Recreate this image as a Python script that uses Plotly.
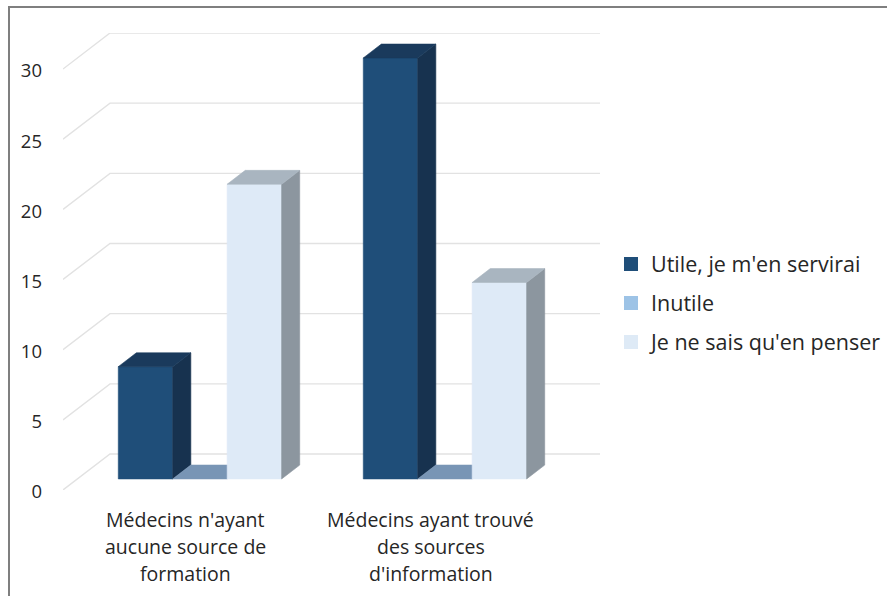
import plotly.graph_objects as go

categories = [["Médecins n'ayant", "aucune source de", "formation"],
              ["Médecins ayant trouvé", "des sources", "d'information"]]
series_names = ["Utile, je m'en servirai", "Inutile", "Je ne sais qu'en penser"]
utile = [8, 30]
inutile = [0, 0]
ne_sais = [21, 14]
y_ticks = [0, 5, 10, 15, 20, 25, 30]

legend_colors = ["#1F4E79", "#9DC3E6", "#DEEAF6"]
front_colors = ["#1F4E79", "#7C99B8", "#DEEAF7"]
side_colors = ["#17324F", "#6F89A6", "#8C969F"]
top_colors = ["#1A3A5C", "#7895B5", "#A9B5C0"]
GRID = "#E2E2E2"
TEXT = "#262626"
FONT = "Open Sans"
FS_CAT = 19.5
FS_TICK = 18.5
FS_LEG = 21.5

W, H = 887, 596
ML, MR, MT, MB = 63, 287, 33, 106
PW, PH = W - ML - MR, H - MT - MB
DEPTH_X = 47 / 245          # floor depth, in category units
DEPTH_Y = 36 / 14.03        # floor depth, in value units
X_MAX = 2 + DEPTH_X
Y_MAX = 30 + DEPTH_Y


def proj(c, v, d):
    return c + d * DEPTH_X, v + d * DEPTH_Y


fig = go.Figure()

# walls: gridlines run along the side wall, then along the back wall
for t in y_ticks:
    pts = [proj(0, t, 0), proj(0, t, 1), proj(2, t, 1)]
    fig.add_trace(go.Scatter(x=[p[0] for p in pts], y=[p[1] for p in pts], mode="lines",
                             line=dict(color=GRID, width=1.4), showlegend=False, hoverinfo="skip"))


def face(points, color):
    xs = [p[0] for p in points] + [points[0][0]]
    ys = [p[1] for p in points] + [points[0][1]]
    fig.add_trace(go.Scatter(x=xs, y=ys, mode="lines", fill="toself", fillcolor=color,
                             line=dict(width=0.6, color=color), showlegend=False, hoverinfo="skip"))


BAR_W = 1 / 4.5
GAP = 1 / 6
D0, D1 = 0.3075, 0.6925
all_series = [utile, inutile, ne_sais]
for cat in range(len(categories)):
    for s, vals in enumerate(all_series):
        v = vals[cat]
        c0 = cat + GAP + s * BAR_W
        c1 = c0 + BAR_W
        if v > 0:
            face([proj(c0, 0, D0), proj(c1, 0, D0), proj(c1, v, D0), proj(c0, v, D0)], front_colors[s])
            face([proj(c1, 0, D0), proj(c1, 0, D1), proj(c1, v, D1), proj(c1, v, D0)], side_colors[s])
        face([proj(c0, v, D0), proj(c1, v, D0), proj(c1, v, D1), proj(c0, v, D1)], top_colors[s])

# legend
for name, col in zip(series_names, legend_colors):
    fig.add_trace(go.Scatter(x=[None], y=[None], mode="markers", name=name, legendgroup=name,
                             marker=dict(symbol="square", size=14, color=col)))

# multi-line category labels
annotations = []
for i, lines in enumerate(categories):
    for j, line in enumerate(lines):
        py = 519.5 + j * 27
        annotations.append(dict(x=i + 0.5, y=1 - (py - MT) / PH, xref="x", yref="paper", text=line,
                                showarrow=False, xanchor="center", yanchor="middle",
                                font=dict(family=FONT, size=FS_CAT, color=TEXT)))

shapes = [
    dict(type="line", xref="paper", yref="paper", x0=(9 - ML) / PW, x1=(9 - ML) / PW,
         y0=1 - (H - MT) / PH, y1=1 - (6 - MT) / PH, line=dict(color="#7F7F7F", width=2)),
    dict(type="line", xref="paper", yref="paper", x0=(8 - ML) / PW, x1=(W - ML) / PW,
         y0=1 - (7 - MT) / PH, y1=1 - (7 - MT) / PH, line=dict(color="#7F7F7F", width=2)),
]

fig.update_layout(
    width=W, height=H, autosize=False,
    margin=dict(l=ML, r=MR, t=MT, b=MB, autoexpand=False),
    paper_bgcolor="white", plot_bgcolor="white",
    font=dict(family=FONT, size=FS_TICK, color=TEXT),
    xaxis=dict(range=[0, X_MAX], showgrid=False, zeroline=False, showline=False,
               showticklabels=False, ticks="", fixedrange=True),
    yaxis=dict(range=[0, Y_MAX], tickvals=y_ticks, showgrid=False, zeroline=False, showline=False,
               ticks="", ticklabelstandoff=20, ticklabelshift=2, fixedrange=True,
               tickfont=dict(family=FONT, size=FS_TICK, color=TEXT)),
    legend=dict(x=(611 - ML) / PW, y=1 - (303 - MT) / PH, xanchor="left", yanchor="middle",
                tracegroupgap=8, itemclick=False, itemdoubleclick=False,
                font=dict(family=FONT, size=FS_LEG, color=TEXT), bgcolor="rgba(0,0,0,0)"),
    annotations=annotations, shapes=shapes, showlegend=True,
)
fig.write_html("out.html", config=dict(displayModeBar=False),
               post_script="document.body.style.margin='0';document.documentElement.style.overflow='hidden';")
